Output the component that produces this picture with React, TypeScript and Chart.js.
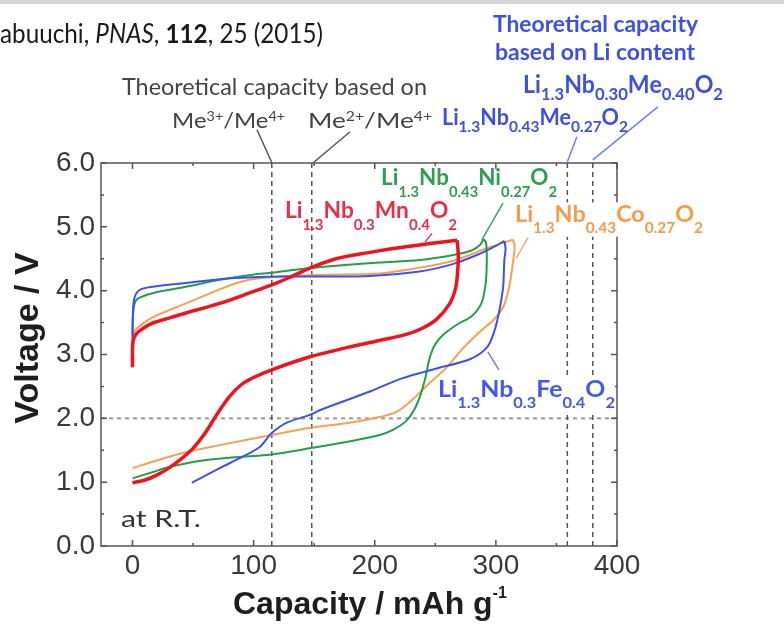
import React, { useEffect, useRef } from "react";
import { Chart, registerables } from "chart.js";
Chart.register(...registerables);

type P = [number, number];

// ---- axes ----
const xTicks = [0, 100, 200, 300, 400];
const xMinorTicks = [50, 150, 250, 350];
const yTicks = [0, 1, 2, 3, 4, 5, 6];
const yMinorTicks = [0.5, 1.5, 2.5, 3.5, 4.5, 5.5];

// ---- reference lines ----
const theoreticalMe = [115, 148]; // Me3+/Me4+, Me2+/Me4+
const theoreticalLi = [359, 380]; // Li1.3Nb0.43Me0.27O2, Li1.3Nb0.30Me0.40O2
const cutoffVoltage = [2.0];

// ---- Li1.3Nb0.3Mn0.4O2 ----
const mnCharge: P[] = [[0, 2.8], [0, 3.05], [0.6, 3.22], [3, 3.32], [8, 3.4], [16.5, 3.49], [30, 3.57], [44, 3.65], [72, 3.8], [99, 3.98], [115, 4.09], [130, 4.21], [146, 4.35], [168, 4.5], [196, 4.6], [223, 4.68], [251, 4.75], [268, 4.79]];
const mnDischarge: P[] = [[268, 4.79], [269, 4.55], [268.5, 4.32], [267, 4.06], [262, 3.8], [251, 3.55], [238, 3.4], [223, 3.3], [204, 3.22], [182, 3.13], [146, 2.96], [115, 2.76], [100, 2.64], [90, 2.53], [80, 2.34], [70, 2.07], [60, 1.77], [50, 1.53], [40, 1.36], [30, 1.22], [20, 1.11], [10, 1.03], [0, 0.99]];

// ---- Li1.3Nb0.43Ni0.27O2 ----
const niCharge: P[] = [[0, 3.3], [0.4, 3.62], [1.5, 3.78], [4, 3.87], [16.5, 3.96], [44, 4.06], [72, 4.17], [99, 4.25], [115, 4.28], [140, 4.34], [168, 4.39], [204, 4.44], [237, 4.48], [265, 4.56], [280, 4.63], [287, 4.72], [290, 4.81]];
const niDischarge: P[] = [[290, 4.81], [292, 4.74], [292.5, 4.45], [291.5, 4.1], [288, 3.8], [280, 3.6], [268, 3.47], [256, 3.3], [249, 3.13], [245, 2.92], [242, 2.65], [238, 2.38], [233, 2.15], [226, 1.96], [215, 1.82], [204, 1.74], [182, 1.65], [146, 1.53], [113, 1.43], [91, 1.4], [58, 1.34], [31, 1.24], [17, 1.16], [0, 1.06]];

// ---- Li1.3Nb0.43Co0.27O2 ----
const coCharge: P[] = [[0, 3.2], [0.5, 3.3], [3, 3.4], [16.5, 3.58], [44, 3.8], [72, 4.02], [86, 4.12], [99, 4.18], [127, 4.23], [160, 4.25], [204, 4.27], [237, 4.36], [265, 4.47], [292, 4.66], [306, 4.75], [314, 4.8]];
const coDischarge: P[] = [[314, 4.8], [315.5, 4.7], [314, 4.43], [311, 4.06], [306, 3.74], [298, 3.54], [287, 3.36], [273, 3.1], [259, 2.79], [245, 2.55], [231, 2.29], [218, 2.1], [204, 2.02], [182, 1.94], [146, 1.85], [115, 1.74], [72, 1.58], [44, 1.47], [16.5, 1.32], [0, 1.22]];

// ---- Li1.3Nb0.3Fe0.4O2 ----
const feCharge: P[] = [[0, 3.25], [0.3, 3.6], [1.5, 3.88], [5.8, 4.01], [16.5, 4.06], [44, 4.12], [72, 4.18], [99, 4.21], [127, 4.22], [160, 4.22], [196, 4.23], [237, 4.3], [265, 4.42], [287, 4.58], [300, 4.7], [307, 4.78]];
const feDischarge: P[] = [[307, 4.78], [308, 4.65], [307, 4.48], [306, 4.06], [303, 3.7], [299, 3.38], [293, 3.12], [279, 2.93], [251, 2.78], [223, 2.63], [196, 2.42], [155, 2.13], [146, 2.05], [127, 1.93], [115, 1.77], [105, 1.55], [91, 1.4], [72, 1.22], [49, 0.99]];

// ---- labels ----
const mnFormula = ["Li", "1.3", "Nb", "0.3", "Mn", "0.4", "O", "2"];
const niFormula = ["Li", "1.3", "Nb", "0.43", "Ni", "0.27", "O", "2"];
const coFormula = ["Li", "1.3", "Nb", "0.43", "Co", "0.27", "O", "2"];
const feFormula = ["Li", "1.3", "Nb", "0.3", "Fe", "0.4", "O", "2"];
const meA = ["Li", "1.3", "Nb", "0.43", "Me", "0.27", "O", "2"];
const meB = ["Li", "1.3", "Nb", "0.30", "Me", "0.40", "O", "2"];

const RED = "#f0121c";
const GREEN = "#22a047";
const ORANGE = "#f8a050";
const BLUE = "#3b52f0";

const ANN = "Lato, 'Open Sans', sans-serif";
const AX = "'Liberation Sans', Arial, sans-serif";

type Seg = { t: string; k?: "sub" | "sup" | "i" | "b" };

const formula = (parts: string[]): Seg[] =>
  parts.map((t, i) => ({ t, k: i % 2 === 1 ? "sub" : undefined }));

type RichOpt = {
  size: number;
  color: string;
  weight?: string;
  family?: string;
  subScale?: number;
  subDy?: number;
  supDy?: number;
  width?: number;
  bg?: string;
};

function drawRich(ctx: CanvasRenderingContext2D, segs: Seg[], x: number, y: number, o: RichOpt) {
  ctx.save();
  const fam = o.family || ANN;
  const fontFor = (s: Seg) => {
    let size = o.size;
    let style = "normal";
    let weight = o.weight || "normal";
    if (s.k === "sub" || s.k === "sup") size = o.size * (o.subScale || 0.65);
    if (s.k === "i") style = "italic";
    if (s.k === "b") weight = "bold";
    return `${style} ${weight} ${size}px ${fam}`;
  };
  let total = 0;
  const widths = segs.map((s) => {
    ctx.font = fontFor(s);
    const w = ctx.measureText(s.t).width;
    total += w;
    return w;
  });
  const k = o.width ? o.width / total : 1;
  if (o.bg) {
    ctx.fillStyle = o.bg;
    const top = y - o.size * 0.88;
    const bottom = y + (o.subDy || 0) + 4;
    ctx.fillRect(x - 2, top, total * k + 2, bottom - top);
  }
  ctx.translate(x, y);
  ctx.scale(k, 1);
  ctx.fillStyle = o.color;
  ctx.textBaseline = "alphabetic";
  ctx.textAlign = "left";
  let cx = 0;
  segs.forEach((s, i) => {
    ctx.font = fontFor(s);
    const dy = s.k === "sub" ? o.subDy || 0 : s.k === "sup" ? -(o.supDy || 0) : 0;
    ctx.fillText(s.t, cx, dy);
    cx += widths[i];
  });
  ctx.restore();
}

const overlay = {
  id: "overlay",
  afterDraw(chart: any) {
    const { ctx, chartArea: a, scales } = chart;
    const X = (v: number) => scales.x.getPixelForValue(v);
    const Y = (v: number) => scales.y.getPixelForValue(v);

    // top strip
    ctx.save();
    ctx.fillStyle = "#d6d6d6";
    ctx.fillRect(0, 0, chart.width, 4);
    ctx.restore();

    // frame + inward ticks
    ctx.save();
    ctx.strokeStyle = "#555";
    ctx.lineWidth = 1.5;
    ctx.strokeRect(a.left, a.top, a.right - a.left, a.bottom - a.top);
    ctx.beginPath();
    const tx = (v: number, len: number) => {
      const px = X(v);
      ctx.moveTo(px, a.bottom); ctx.lineTo(px, a.bottom - len);
      ctx.moveTo(px, a.top); ctx.lineTo(px, a.top + len);
    };
    const ty = (v: number, len: number) => {
      const py = Y(v);
      ctx.moveTo(a.left, py); ctx.lineTo(a.left + len, py);
      ctx.moveTo(a.right, py); ctx.lineTo(a.right - len, py);
    };
    xTicks.forEach((v) => tx(v, 6));
    xMinorTicks.forEach((v) => tx(v, 3));
    yTicks.forEach((v) => ty(v, 6));
    yMinorTicks.forEach((v) => ty(v, 3));
    ctx.stroke();
    ctx.restore();

    // axis titles
    ctx.save();
    ctx.fillStyle = "#1e1e1e";
    ctx.font = `bold 34px ${AX}`;
    ctx.translate(38, 338);
    ctx.rotate(-Math.PI / 2);
    ctx.textAlign = "center";
    ctx.textBaseline = "alphabetic";
    ctx.fillText("Voltage / V", 0, 0);
    ctx.restore();
    drawRich(ctx, [{ t: "Capacity / mAh g" }, { t: "-1", k: "sup" }], 233, 614, {
      size: 32, weight: "bold", family: AX, color: "#1e1e1e", subScale: 0.5, supDy: 16,
    });

    // citation
    drawRich(ctx, [{ t: "abuuchi, " }, { t: "PNAS", k: "i" }, { t: ", " }, { t: "112", k: "b" }, { t: ", 25 (2015)" }], 0, 43, {
      size: 27, color: "#1a1a1a", width: 323,
    });

    // leader lines
    const lead = (x1: number, y1: number, x2: number, y2: number, color: string) => {
      ctx.save();
      ctx.strokeStyle = color;
      ctx.lineWidth = 1.5;
      ctx.beginPath();
      ctx.moveTo(X(x1), Y(y1));
      ctx.lineTo(X(x2), Y(y2));
      ctx.stroke();
      ctx.restore();
    };
    lead(102.8, 6.52, 115.2, 6.0, "#555");
    lead(179.6, 6.49, 149, 6.0, "#555");
    lead(366.9, 6.41, 359, 6.02, "#7080e8");
    lead(433.8, 6.88, 380, 6.05, "#7080e8");
    lead(305.9, 5.37, 288.5, 4.8, "#3aa85c");
    lead(247.3, 4.9, 241.5, 4.76, "#e84050");
    lead(326.5, 4.83, 316.6, 4.5, "#f5a868");
    lead(293.4, 3.04, 302.5, 2.76, "#7080e8");

    // black annotation
    drawRich(ctx, [{ t: "Theoretical capacity based on" }], X(-8.7), Y(7.07), { size: 23, color: "#444", width: 305 });
    drawRich(ctx, [{ t: "Me" }, { t: "3+", k: "sup" }, { t: "/Me" }, { t: "4+", k: "sup" }], X(32.7), Y(6.55), {
      size: 22, color: "#444", width: 113, subScale: 0.6, supDy: 7,
    });
    drawRich(ctx, [{ t: "Me" }, { t: "2+", k: "sup" }, { t: "/Me" }, { t: "4+", k: "sup" }], X(144.9), Y(6.55), {
      size: 22, color: "#444", width: 124, subScale: 0.6, supDy: 7,
    });

    // blue annotation
    drawRich(ctx, [{ t: "Theoretical capacity" }], X(297.6), Y(8.05), { size: 23, weight: "bold", color: "#3c50e6", width: 205 });
    drawRich(ctx, [{ t: "based on Li content" }], X(299.3), Y(7.61), { size: 23, weight: "bold", color: "#3c50e6", width: 200 });
    drawRich(ctx, formula(meB), X(322.4), Y(7.1), { size: 24, weight: "bold", color: "#3c50e6", width: 200, subScale: 0.72, subDy: 7 });
    drawRich(ctx, formula(meA), X(255.5), Y(6.6), { size: 22, weight: "bold", color: "#3c50e6", width: 186, subScale: 0.72, subDy: 7 });

    // curve labels
    drawRich(ctx, formula(niFormula), X(205.2), Y(5.66), { size: 22, weight: "bold", color: "#2e9e50", width: 176, subScale: 0.66, subDy: 12 });
    drawRich(ctx, formula(mnFormula), X(125.9), Y(5.14), { size: 22, weight: "bold", color: "#ea2e48", width: 172, subScale: 0.66, subDy: 12 });
    drawRich(ctx, formula(coFormula), X(315.8), Y(5.08), { size: 22, weight: "bold", color: "#f69a4c", width: 188, subScale: 0.66, subDy: 11, bg: "#fff" });
    drawRich(ctx, formula(feFormula), X(252.2), Y(2.33), { size: 22, weight: "bold", color: "#4358ee", width: 177, subScale: 0.66, subDy: 11, bg: "#fff" });
    drawRich(ctx, [{ t: "at R.T." }], X(-9.5), Y(0.3), { size: 23, color: "#333", width: 80 });
  },
};

const curves = [
  { data: mnCharge, color: RED, w: 3.5 },
  { data: mnDischarge, color: RED, w: 3.5 },
  { data: feCharge, color: BLUE, w: 2 },
  { data: feDischarge, color: BLUE, w: 2 },
  { data: niCharge, color: GREEN, w: 2 },
  { data: niDischarge, color: GREEN, w: 2 },
  { data: coCharge, color: ORANGE, w: 2 },
  { data: coDischarge, color: ORANGE, w: 2 },
];

export default function App() {
  const ref = useRef<HTMLCanvasElement | null>(null);
  useEffect(() => {
    if (!ref.current) return;
    const curveSets = curves.map((c) => ({
      type: "line" as const,
      data: c.data.map(([x, y]) => ({ x, y })),
      borderColor: c.color,
      borderWidth: c.w,
      pointRadius: 0,
      tension: 0.3,
      fill: false,
    }));
    const vSets = [...theoreticalMe, ...theoreticalLi].map((v) => ({
      type: "line" as const,
      data: [{ x: v, y: 0 }, { x: v, y: 6 }],
      borderColor: "#555",
      borderWidth: 1.5,
      borderDash: [5, 4],
      pointRadius: 0,
      tension: 0,
      fill: false,
    }));
    const hSets = cutoffVoltage.map((v) => ({
      type: "line" as const,
      data: [{ x: -26, y: v }, { x: 400, y: v }],
      borderColor: "#9a9a9a",
      borderWidth: 2,
      borderDash: [4, 4],
      pointRadius: 0,
      tension: 0,
      fill: false,
    }));
    const chart = new Chart(ref.current, {
      type: "line",
      data: { datasets: [...curveSets, ...vSets, ...hSets] as any },
      options: {
        animation: false,
        responsive: false,
        maintainAspectRatio: false,
        layout: { padding: { left: 0, top: 163, right: 167, bottom: 0 } },
        plugins: { legend: { display: false }, tooltip: { enabled: false } },
        scales: {
          x: {
            type: "linear",
            min: -26,
            max: 400,
            grid: { display: false, drawTicks: false },
            border: { display: false },
            ticks: { font: { family: AX, size: 28 }, color: "#3a3a3a", padding: 3, maxRotation: 0 },
            afterBuildTicks: (s: any) => { s.ticks = xTicks.map((v) => ({ value: v })); },
            afterFit: (s: any) => { s.height = 86; },
          },
          y: {
            type: "linear",
            min: 0,
            max: 6,
            grid: { display: false, drawTicks: false },
            border: { display: false },
            ticks: {
              font: { family: AX, size: 28 },
              color: "#3a3a3a",
              padding: 6,
              callback: (v: any) => Number(v).toFixed(1),
            },
            afterBuildTicks: (s: any) => { s.ticks = yTicks.map((v) => ({ value: v })); },
            afterFit: (s: any) => { s.width = 101; },
          },
        },
      },
      plugins: [overlay],
    });
    return () => chart.destroy();
  }, []);
  return (
    <div style={{ position: "fixed", left: 0, top: 0, width: 784, height: 632, background: "#fff" }}>
      <canvas ref={ref} width={784} height={632} style={{ display: "block", width: 784, height: 632 }} />
    </div>
  );
}
